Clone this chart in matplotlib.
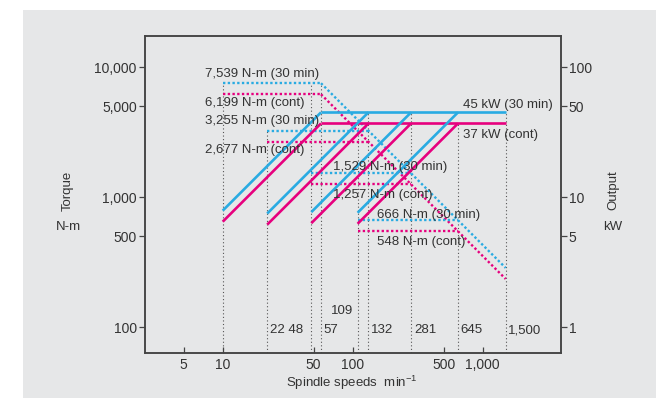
import numpy as np
import matplotlib
matplotlib.use('Agg')
import matplotlib.pyplot as plt
from matplotlib.patches import Rectangle

plt.rcParams['font.family'] = ['Liberation Sans', 'DejaVu Sans']
plt.rcParams['mathtext.fontset'] = 'custom'
plt.rcParams['mathtext.rm'] = 'Liberation Sans'
plt.rcParams['mathtext.it'] = 'Liberation Sans'

BLUE = '#29abe2'
PINK = '#e6007e'
GRAY_BG = '#e6e7e8'
INK = '#333333'
AXIS = '#444444'
VGRAY = '#555555'

# Gear ranges: speeds in min-1, torque in N-m, power in kW
gear_start = [10, 22, 48, 109]
gear_corner = [57, 132, 281, 645]
torque_30min = [7539, 3255, 1529, 666]
torque_cont = [6199, 2677, 1257, 548]
power_30min = 45
power_cont = 37
max_speed = 1500

# vertical guide lines (speed, top in N-m)
vline_speeds = [10, 22, 48, 57, 109, 132, 281, 645, 1500]
vline_tops = [7539, 3255, 7539, 7539, 3700, 4500, 4500, 3700, 4500]

speed_labels = ['22 48', '57', '109', '132', '281', '645', '1,500']
speed_label_at = [22, 57, 109, 132, 281, 645, 1500]

torque_labels = ['7,539 N-m (30 min)', '6,199 N-m (cont)', '3,255 N-m (30 min)', '2,677 N-m (cont)',
                 '1,529 N-m (30 min)', '1,257 N-m (cont)', '666 N-m (30 min)', '548 N-m (cont)']
torque_label_x = [7.31, 7.31, 7.31, 7.31, 70.9, 70.9, 154.6, 154.6]
torque_label_y = [8882, 5311, 3884, 2311, 1718, 1042, 731, 450]


def kw(torque, speed):
    return torque * 2 * np.pi * speed / 60000.0


def nm(power, speed):
    return power * 60000.0 / (2 * np.pi * speed)


fig = plt.figure(figsize=(6.56, 3.98), dpi=100, facecolor='white')
fig.patches.append(Rectangle((22.6 / 656, 0), 1, (398 - 9.6) / 398, transform=fig.transFigure,
                             facecolor=GRAY_BG, edgecolor='none', zorder=-10))
ax = fig.add_axes([0.2206, 0.1138, 0.8552 - 0.2206, 0.9106 - 0.1138])
ax.set_facecolor(GRAY_BG)
ax.set_xscale('log')
ax.set_yscale('log')
ax.set_xlim(2.512, 3999)
ax.set_ylim(63.77, 17530)

ax2 = ax.twinx()
ax2.set_yscale('log')
ax2.set_ylim(63.77 / 100, 17530 / 100)

# vertical dotted guides
for s, top in zip(vline_speeds, vline_tops):
    ax.plot([s, s], [63.77, top], color=VGRAY, lw=0.8, linestyle=(0, (1, 2.2)), zorder=1)

# torque curves (dotted)
for tq_list, p, col in [(torque_cont, power_cont, PINK), (torque_30min, power_30min, BLUE)]:
    for s0, sc, tq in zip(gear_start, gear_corner, tq_list):
        ax.plot([s0, sc], [tq, tq], color=col, lw=1.7, linestyle=(0, (1, 1)), zorder=3)
    ax.plot([gear_corner[0], max_speed], [tq_list[0], nm(p, max_speed)], color=col, lw=1.7,
            linestyle=(0, (1, 1)), zorder=3)

# power curves (solid)
for tq_list, p, col in [(torque_cont, power_cont, PINK), (torque_30min, power_30min, BLUE)]:
    for s0, sc, tq in zip(gear_start, gear_corner, tq_list):
        ax2.plot([s0, sc], [kw(tq, s0), p], color=col, lw=1.9, solid_capstyle='butt', zorder=4)
    ax2.plot([gear_corner[0], max_speed], [p, p], color=col, lw=1.9, solid_capstyle='butt', zorder=4)

for t, x, y in zip(torque_labels, torque_label_x, torque_label_y):
    ax2.text(x, y / 100, t, fontsize=9.5, color=INK, ha='left', va='center', zorder=6)
ax2.text(709.6, 51.3, '45 kW (30 min)', fontsize=9.5, color=INK, ha='left', va='center', zorder=6)
ax2.text(709.6, 30.1, '37 kW (cont)', fontsize=9.5, color=INK, ha='left', va='center', zorder=6)

for t, s in zip(speed_labels, speed_label_at):
    if t == '109':
        ax.annotate(t, xy=(s, 133), xytext=(-3.5, 0), textcoords='offset points', ha='right',
                    va='center', fontsize=9.5, color=INK)
    else:
        ax.annotate(t, xy=(s, 95), xytext=(2.0, 0), textcoords='offset points', ha='left',
                    va='center', fontsize=9.5, color=INK)

# ticks
ax.set_xticks([5, 10, 50, 100, 500, 1000])
ax.set_xticklabels(['5', '10', '50', '100', '500', '1,000'])
ax.set_yticks([100, 500, 1000, 5000, 10000])
ax.set_yticklabels(['100', '500', '1,000', '5,000', '10,000'])
ax2.set_yticks([1, 5, 10, 50, 100])
ax2.set_yticklabels(['1', '5', '10', '50', '100'])
ax.minorticks_off()
ax2.minorticks_off()
ax.tick_params(axis='x', direction='in', length=4.2, width=0.9, color=AXIS, labelcolor=INK,
               labelsize=10, pad=4)
ax.tick_params(axis='y', direction='out', length=4.2, width=0.9, color=AXIS, labelcolor=INK,
               labelsize=10, pad=1.5)
ax2.tick_params(axis='y', direction='out', length=4.2, width=0.9, color=AXIS, labelcolor=INK,
                labelsize=10, pad=1.5)
for a in (ax, ax2):
    for sp in a.spines.values():
        sp.set_color(AXIS)
        sp.set_linewidth(1.1)

fig.text(351.7 / 656, 1 - 382.7 / 398, 'Spindle speeds  min$^{-1}$', fontsize=9.5, color=INK,
         ha='center', va='center')
fig.text(68 / 656, 1 - 190.7 / 398, 'Torque', rotation=90, fontsize=9.5, color=INK,
         ha='center', va='center')
fig.text(68 / 656, 1 - 227 / 398, 'N-m', fontsize=9.5, color=INK, ha='center', va='center')
fig.text(613 / 656, 1 - 190 / 398, 'Output', rotation=90, fontsize=9.5, color=INK,
         ha='center', va='center')
fig.text(613 / 656, 1 - 226.7 / 398, 'kW', fontsize=9.5, color=INK, ha='center', va='center')

fig.savefig('out.png', dpi=100, facecolor='white')
